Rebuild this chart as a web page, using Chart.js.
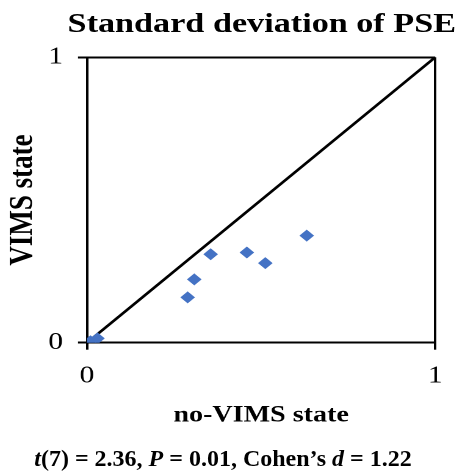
<!DOCTYPE html>
<html>
<head>
<meta charset="utf-8">
<script src="https://cdn.jsdelivr.net/npm/chart.js@4.4.1/dist/chart.umd.min.js"></script>
<style>
  body { margin: 0; background: #fff; }
  #wrap { position: relative; width: 465px; height: 472px; overflow: hidden; background: #fff; }
  /* the reference picture is stretched sideways, so the plot is drawn square and widened */
  #stretch { position: absolute; left: 0; top: 0; width: 381px; height: 472px;
             transform: scaleX(1.2205); transform-origin: 0 0; }
  #chart { position: absolute; left: 0; top: 0; width: 381px; height: 472px; }
  #title { position: absolute; left: 48px; width: 333px; top: 8.5px; text-align: center;
           font: bold 28px/28px 'Liberation Serif', serif; color: #000; white-space: nowrap; z-index: 2; }
  #caption { position: absolute; left: 0; width: 446px; top: 446px; text-align: center;
             font: bold 24px/24px 'Liberation Serif', serif; color: #000; white-space: nowrap; }
</style>
</head>
<body>
<div id="wrap">
  <div id="stretch">
    <div id="title">Standard deviation of PSE</div>
    <canvas id="chart" width="381" height="472"></canvas>
  </div>
  <div id="caption"><i>t</i>(7) = 2.36, <i>P</i> = 0.01, Cohen’s <i>d</i> = 1.22</div>
</div>
<script>
"use strict";

/* --- DATA --- */

const no_vims_state = [0.01, 0.03, 0.289, 0.308, 0.355, 0.459, 0.512, 0.631];
const vims_state = [0.005, 0.015, 0.159, 0.222, 0.310, 0.316, 0.279, 0.375];
const identity_line = [0, 1];
const tick_values = [0, 1];

const x_title = 'no-VIMS state';
const y_title = 'VIMS state';

/* --- CHART --- */

const serif = "'Liberation Serif', serif";

const subjects = no_vims_state.map((x, i) => ({ x: x, y: vims_state[i] }));
const diagonal = identity_line.map(v => ({ x: v, y: v }));

function set_ticks(scale) {
  scale.ticks = tick_values.map(v => ({ value: v }));
}

const chart_el = document.getElementById('chart');

let pse_chart = new Chart(chart_el, {
  type: 'scatter',
  data: {
    datasets: [{
      label: 'Subjects',
      data: subjects,
      pointStyle: 'rectRot',
      pointRadius: 6,
      pointHoverRadius: 6,
      backgroundColor: '#4472C4',
      borderColor: '#4472C4',
      borderWidth: 0,
      clip: 0
    }, {
      type: 'line',
      label: 'y = x',
      data: diagonal,
      borderColor: '#000',
      borderWidth: 2.5,
      pointRadius: 0,
      fill: false
    }]
  },
  options: {
    responsive: false,
    animation: false,
    devicePixelRatio: 2,
    layout: {
      padding: { top: 57.3, right: 24.4, bottom: 0, left: 0 }
    },
    plugins: {
      legend: { display: false },
      tooltip: { enabled: false },
      title: { display: false }
    },
    scales: {
      x: {
        type: 'linear',
        min: 0,
        max: 1,
        afterBuildTicks: set_ticks,
        afterFit: scale => { scale.height = 129.3; },
        grid: { color: '#000', lineWidth: 2, tickLength: 7 },
        border: { display: true, color: '#000', width: 2 },
        ticks: {
          padding: 12.2,
          color: '#000',
          font: { family: serif, size: 24 }
        },
        title: {
          display: true,
          text: x_title,
          color: '#000',
          font: { family: serif, size: 23, weight: 'bold' },
          padding: { top: 0, bottom: 42.6 }
        }
      },
      y: {
        type: 'linear',
        min: 0,
        max: 1,
        afterBuildTicks: set_ticks,
        afterFit: scale => { scale.width = 71.3; },
        grid: { color: '#000', lineWidth: 2, tickLength: 7.4 },
        border: { display: true, color: '#000', width: 2 },
        ticks: {
          padding: 12.3,
          color: '#000',
          font: { family: serif, size: 24 }
        },
        title: {
          display: true,
          text: y_title,
          color: '#000',
          font: { family: serif, size: 27, weight: 'bold' },
          padding: { top: 2.7, bottom: 0 }
        }
      }
    }
  }
});
</script>
</body>
</html>
